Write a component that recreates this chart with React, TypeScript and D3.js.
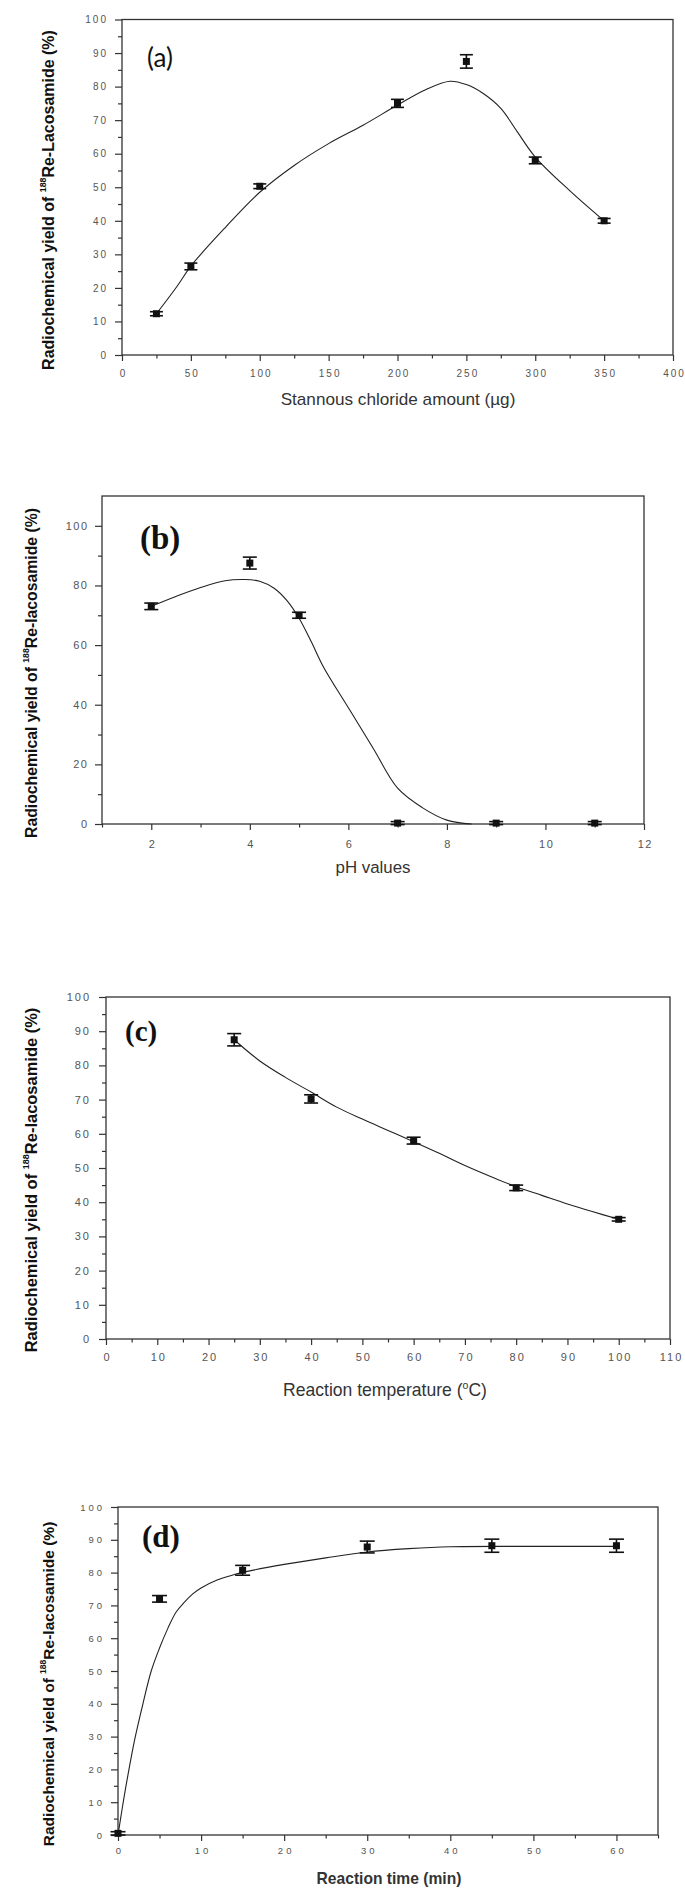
import React, { useRef, useEffect } from 'react';
import * as d3 from 'd3';

// (a) stannous chloride amount (µg)
const tinAmount = [25, 50, 100, 200, 250, 300, 350];
const tinYield = [12.3, 26.4, 50.3, 75.0, 87.5, 58.0, 40.0];
const tinError = [0.6, 1.0, 0.7, 1.2, 2.0, 1.0, 0.7];
const tinFitX = [25, 40, 50, 75, 100, 125, 150, 175, 200, 220, 238, 250, 262, 275, 287, 300, 325, 350];
const tinFitY = [12.3, 20.5, 26.5, 38, 48.5, 56.5, 63, 68.5, 74.5, 79, 81.6, 80.6, 78, 73.5, 66.5, 59, 49, 40];
const tinTicks = [0, 50, 100, 150, 200, 250, 300, 350, 400];
const tinMinor = [25, 75, 125, 175, 225, 275, 325, 375];

// (b) pH
const phValue = [2, 4, 5, 7, 9, 11];
const phYield = [73, 87.5, 70, 0.3, 0.3, 0.3];
const phError = [1.1, 2.0, 1.0, 0.5, 0.5, 0.5];
const phFitX = [2, 2.5, 3, 3.5, 3.9, 4.2, 4.5, 4.75, 5, 5.25, 5.5, 6, 6.5, 7, 7.5, 8, 8.5];
const phFitY = [73, 76.3, 79.3, 81.6, 82, 81.4, 79, 75, 69, 61, 52.5, 39, 25.5, 12, 5.5, 1.3, 0];
const phTicks = [2, 4, 6, 8, 10, 12];
const phMinor = [1, 3, 5, 7, 9, 11];

// (c) reaction temperature (°C)
const tempValue = [25, 40, 60, 80, 100];
const tempYield = [87.5, 70.2, 58.0, 44.2, 35.0];
const tempError = [1.8, 1.2, 1.0, 0.8, 0.5];
const tempFitX = [25, 30, 35, 40, 45, 50, 55, 60, 65, 70, 75, 80, 85, 90, 95, 100];
const tempFitY = [87.5, 81.3, 76.5, 72.2, 67.8, 64.3, 61, 57.7, 54.3, 50.7, 47.5, 44.5, 42, 39.5, 37.2, 35];
const tempTicks = [0, 10, 20, 30, 40, 50, 60, 70, 80, 90, 100, 110];
const tempMinor = [5, 15, 25, 35, 45, 55, 65, 75, 85, 95, 105];

// (d) reaction time (min)
const timeValue = [0, 5, 15, 30, 45, 60];
const timeYield = [0.5, 72, 80.7, 87.8, 88.2, 88.2];
const timeError = [0.5, 1.0, 1.5, 1.8, 2.0, 2.0];
const timeFitX = [0, 0.5, 1, 2, 3, 4, 5, 6, 7, 8, 9, 10, 12, 14, 16, 20, 25, 30, 35, 40, 50, 60];
const timeFitY = [0, 8, 15.5, 29, 40, 50, 57, 63, 68, 71, 73.5, 75.3, 77.8, 79.4, 80.6, 82.5, 84.5, 86.3, 87.3, 87.9, 88, 88];
const timeTicks = [0, 10, 20, 30, 40, 50, 60];
const timeMinor = [5, 15, 25, 35, 45, 55, 65];

// shared y ticks
const yieldTicks = [0, 10, 20, 30, 40, 50, 60, 70, 80, 90, 100];
const yieldMinor = [5, 15, 25, 35, 45, 55, 65, 75, 85, 95];
const phYieldTicks = [0, 20, 40, 60, 80, 100];
const phYieldMinor = [10, 30, 50, 70, 90];

const SANS = '"Liberation Sans", Arial, sans-serif';
const SERIF = '"Liberation Serif", "Times New Roman", serif';

interface Seg { t: string; sup?: boolean }

interface PanelSpec {
  left: number; top: number; right: number; bottom: number;
  xDomain: [number, number]; yDomain: [number, number];
  xTicks: number[]; xMinor: number[]; yTicks: number[]; yMinor: number[];
  xs: number[]; ys: number[]; errs: number[]; fitX: number[]; fitY: number[];
  tickFont: number; tickSpacing: number; xPad: number; yPad: number; capW: number;
  tag: string; tagFamily: string; tagSize: number; tagWeight: string; tagX: number; tagY: number;
  xTitle: Seg[]; xTitleX: number; xTitleY: number; xTitleW: number; xTitleWeight: string;
  compound: string; yTitleX: number; yTitleY: number; yTitleW: number;
}

const panels: PanelSpec[] = [
  {
    left: 122, top: 19.5, right: 673, bottom: 355,
    xDomain: [0, 400], yDomain: [0, 100],
    xTicks: tinTicks, xMinor: tinMinor, yTicks: yieldTicks, yMinor: yieldMinor,
    xs: tinAmount, ys: tinYield, errs: tinError, fitX: tinFitX, fitY: tinFitY,
    tickFont: 10, tickSpacing: 2, xPad: 9, yPad: 7, capW: 13,
    tag: '(a)', tagFamily: 'Lato, "Open Sans", sans-serif', tagSize: 26, tagWeight: 'normal', tagX: 147, tagY: 67,
    xTitle: [{ t: 'Stannous chloride amount (µg)' }], xTitleX: 398, xTitleY: 405, xTitleW: 235, xTitleWeight: 'normal',
    compound: 'Re-Lacosamide (%)', yTitleX: 48, yTitleY: 200, yTitleW: 340,
  },
  {
    left: 102, top: 496, right: 644, bottom: 824,
    xDomain: [1, 12], yDomain: [0, 110],
    xTicks: phTicks, xMinor: phMinor, yTicks: phYieldTicks, yMinor: phYieldMinor,
    xs: phValue, ys: phYield, errs: phError, fitX: phFitX, fitY: phFitY,
    tickFont: 11, tickSpacing: 1.5, xPad: 10, yPad: 6.5, capW: 14,
    tag: '(b)', tagFamily: SERIF, tagSize: 33, tagWeight: 'bold', tagX: 140, tagY: 549,
    xTitle: [{ t: 'pH values' }], xTitleX: 373, xTitleY: 873, xTitleW: 75, xTitleWeight: 'normal',
    compound: 'Re-lacosamide (%)', yTitleX: 31, yTitleY: 673, yTitleW: 330,
  },
  {
    left: 106, top: 997, right: 670, bottom: 1339,
    xDomain: [0, 110], yDomain: [0, 100],
    xTicks: tempTicks, xMinor: tempMinor, yTicks: yieldTicks, yMinor: yieldMinor,
    xs: tempValue, ys: tempYield, errs: tempError, fitX: tempFitX, fitY: tempFitY,
    tickFont: 11, tickSpacing: 2, xPad: 8, yPad: 8, capW: 14,
    tag: '(c)', tagFamily: SERIF, tagSize: 29, tagWeight: 'bold', tagX: 125, tagY: 1041,
    xTitle: [{ t: 'Reaction temperature (' }, { t: 'o', sup: true }, { t: 'C)' }],
    xTitleX: 385, xTitleY: 1396, xTitleW: 204, xTitleWeight: 'normal',
    compound: 'Re-lacosamide (%)', yTitleX: 31, yTitleY: 1180, yTitleW: 345,
  },
  {
    left: 118, top: 1507, right: 658, bottom: 1835,
    xDomain: [0, 65], yDomain: [0, 100],
    xTicks: timeTicks, xMinor: timeMinor, yTicks: yieldTicks, yMinor: yieldMinor,
    xs: timeValue, ys: timeYield, errs: timeError, fitX: timeFitX, fitY: timeFitY,
    tickFont: 9.5, tickSpacing: 3, xPad: 6, yPad: 6, capW: 15,
    tag: '(d)', tagFamily: SERIF, tagSize: 31, tagWeight: 'bold', tagX: 142, tagY: 1547,
    xTitle: [{ t: 'Reaction time (min)' }], xTitleX: 389, xTitleY: 1884, xTitleW: 145, xTitleWeight: 'bold',
    compound: 'Re-lacosamide (%)', yTitleX: 48, yTitleY: 1684, yTitleW: 325,
  },
];

function fitWidth(sel: d3.Selection<SVGTextElement, unknown, null, undefined>, target: number) {
  const node = sel.node();
  if (!node) return;
  const len = node.getComputedTextLength();
  if (len > 0) {
    const fs = parseFloat(sel.attr('font-size'));
    sel.attr('font-size', (fs * target) / len);
  }
}

function drawPanel(svg: d3.Selection<SVGSVGElement, unknown, null, undefined>, p: PanelSpec) {
  const g = svg.append('g');
  const x = d3.scaleLinear().domain(p.xDomain).range([p.left, p.right]);
  const y = d3.scaleLinear().domain(p.yDomain).range([p.bottom, p.top]);

  // frame
  g.append('rect')
    .attr('x', p.left)
    .attr('y', p.top)
    .attr('width', p.right - p.left)
    .attr('height', p.bottom - p.top)
    .attr('fill', 'none')
    .attr('stroke', '#333')
    .attr('stroke-width', 1.3);

  const styleAxis = (a: d3.Selection<SVGGElement, unknown, null, undefined>, shiftX: boolean) => {
    a.select('.domain').remove();
    a.selectAll('line').attr('stroke', '#333').attr('stroke-width', 1.2);
    a.selectAll('text')
      .attr('font-family', SANS)
      .attr('font-size', p.tickFont)
      .attr('letter-spacing', p.tickSpacing)
      .attr('fill', '#555');
    if (shiftX) a.selectAll('text').attr('dx', p.tickSpacing / 2);
  };

  // x axis, major + minor
  const xa = g.append('g').attr('transform', `translate(0,${p.bottom})`)
    .call(d3.axisBottom(x).tickValues(p.xTicks).tickSize(6).tickSizeOuter(0).tickPadding(p.xPad).tickFormat(d3.format('d')));
  styleAxis(xa, true);
  const xm = g.append('g').attr('transform', `translate(0,${p.bottom})`)
    .call(d3.axisBottom(x).tickValues(p.xMinor).tickSize(3.5).tickSizeOuter(0).tickFormat(() => ''));
  styleAxis(xm, false);

  // y axis, major + minor
  const ya = g.append('g').attr('transform', `translate(${p.left},0)`)
    .call(d3.axisLeft(y).tickValues(p.yTicks).tickSize(7).tickSizeOuter(0).tickPadding(p.yPad).tickFormat(d3.format('d')));
  styleAxis(ya, false);
  const ym = g.append('g').attr('transform', `translate(${p.left},0)`)
    .call(d3.axisLeft(y).tickValues(p.yMinor).tickSize(4).tickSizeOuter(0).tickFormat(() => ''));
  styleAxis(ym, false);

  // fitted curve
  const fit = p.fitX.map((v, i) => [v, p.fitY[i]] as [number, number]);
  const line = d3.line<[number, number]>()
    .x((d) => x(d[0]))
    .y((d) => y(d[1]))
    .curve(d3.curveCatmullRom.alpha(0.5));
  g.append('path')
    .attr('d', line(fit))
    .attr('fill', 'none')
    .attr('stroke', '#222')
    .attr('stroke-width', 1.1);

  // error bars and markers
  const pts = p.xs.map((v, i) => ({ x: v, y: p.ys[i], e: p.errs[i] }));
  const bars = g.selectAll('g.pt').data(pts).enter().append('g').attr('class', 'pt');
  bars.append('line')
    .attr('x1', (d) => x(d.x)).attr('x2', (d) => x(d.x))
    .attr('y1', (d) => y(d.y - d.e)).attr('y2', (d) => y(d.y + d.e))
    .attr('stroke', '#111').attr('stroke-width', 1.6);
  [1, -1].forEach((s) => {
    bars.append('line')
      .attr('x1', (d) => x(d.x) - p.capW / 2).attr('x2', (d) => x(d.x) + p.capW / 2)
      .attr('y1', (d) => y(d.y + s * d.e)).attr('y2', (d) => y(d.y + s * d.e))
      .attr('stroke', '#111').attr('stroke-width', 1.6);
  });
  bars.append('rect')
    .attr('x', (d) => x(d.x) - 3.5)
    .attr('y', (d) => y(d.y) - 3.5)
    .attr('width', 7)
    .attr('height', 7)
    .attr('fill', '#111');

  // panel tag
  g.append('text')
    .attr('x', p.tagX)
    .attr('y', p.tagY)
    .attr('font-family', p.tagFamily)
    .attr('font-size', p.tagSize)
    .attr('font-weight', p.tagWeight)
    .attr('fill', '#111')
    .text(p.tag);

  // x title
  const xt = g.append('text')
    .attr('x', p.xTitleX)
    .attr('y', p.xTitleY)
    .attr('text-anchor', 'middle')
    .attr('font-family', SANS)
    .attr('font-size', 14)
    .attr('font-weight', p.xTitleWeight)
    .attr('fill', '#333');
  let raised = false;
  p.xTitle.forEach((s) => {
    const ts = xt.append('tspan').text(s.t);
    if (s.sup) {
      ts.attr('font-size', '0.6em').attr('dy', '-0.7em');
      raised = true;
    } else if (raised) {
      ts.attr('dy', '0.42em');
      raised = false;
    }
  });
  fitWidth(xt, p.xTitleW);

  // y title
  const yt = g.append('text')
    .attr('transform', `translate(${p.yTitleX},${p.yTitleY}) rotate(-90)`)
    .attr('text-anchor', 'middle')
    .attr('dominant-baseline', 'central')
    .attr('font-family', SANS)
    .attr('font-size', 14)
    .attr('font-weight', 'bold')
    .attr('fill', '#111');
  yt.append('tspan').text('Radiochemical yield of ');
  yt.append('tspan').attr('font-size', '0.55em').attr('dy', '-0.6em').text('188');
  yt.append('tspan').attr('dy', '0.33em').text(p.compound);
  fitWidth(yt, p.yTitleW);
}

const App: React.FC = () => {
  const svgRef = useRef<SVGSVGElement>(null);

  useEffect(() => {
    if (!svgRef.current) return;
    const svg = d3.select(svgRef.current);
    svg.selectAll('*').remove();
    panels.forEach((p) => drawPanel(svg, p));
  }, []);

  return (
    <svg
      ref={svgRef}
      width={685}
      height={1893}
      style={{ position: 'absolute', left: 0, top: 0, background: '#fff' }}
    />
  );
};

export default App;
